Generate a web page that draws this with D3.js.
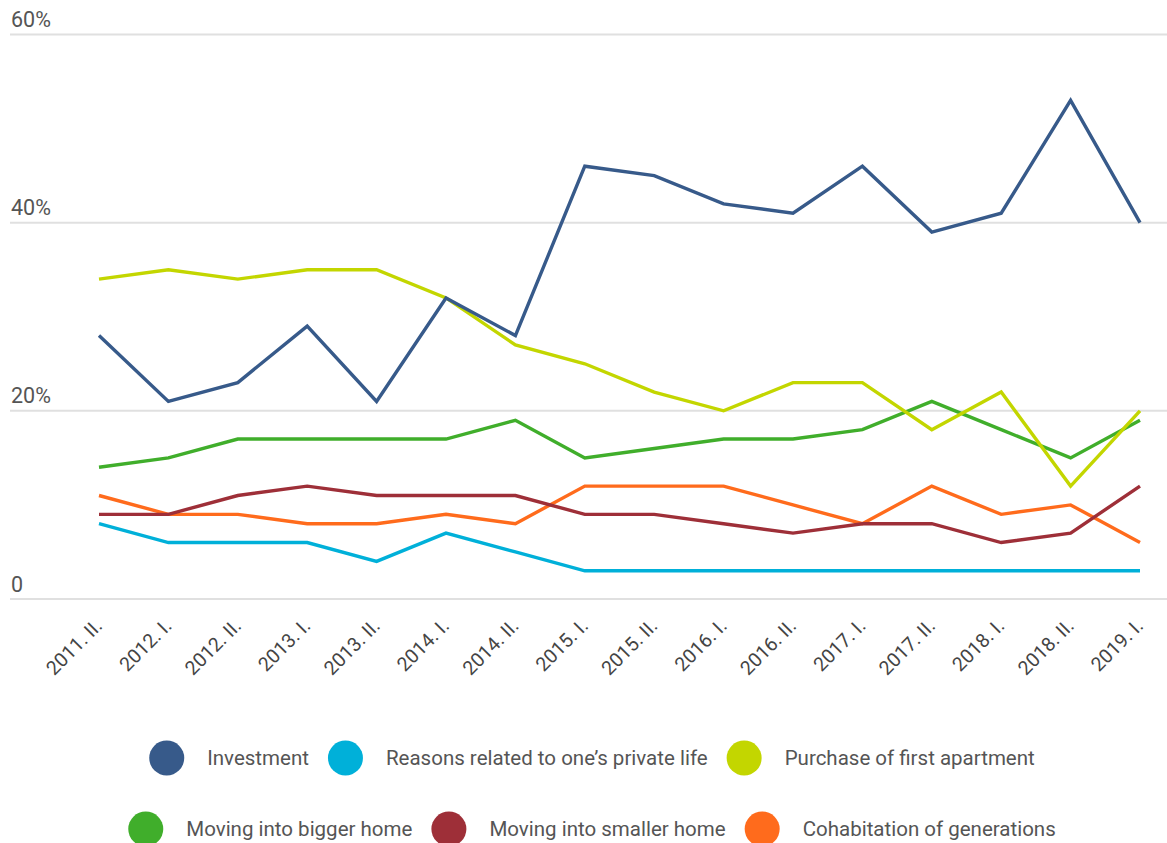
<!DOCTYPE html>
<html>
<head>
<meta charset="utf-8">
<script src="https://cdn.jsdelivr.net/npm/d3@7"></script>
<style>
  html, body { margin: 0; padding: 0; background: #fff; }
  svg { display: block; font-family: Roboto, "Noto Sans", sans-serif; }
</style>
</head>
<body>
<svg id="chart" width="1167" height="843"></svg>
<script>
// Half-year periods
const periods = ["2011. II.", "2012. I.", "2012. II.", "2013. I.", "2013. II.", "2014. I.", "2014. II.",
  "2015. I.", "2015. II.", "2016. I.", "2016. II.", "2017. I.", "2017. II.", "2018. I.", "2018. II.", "2019. I."];

// Share of respondents by motive (%)
const investment  = [28, 21, 23, 29, 21, 32, 28, 46, 45, 42, 41, 46, 39, 41, 53, 40];
const privateLife = [8, 6, 6, 6, 4, 7, 5, 3, 3, 3, 3, 3, 3, 3, 3, 3];
const firstHome   = [34, 35, 34, 35, 35, 32, 27, 25, 22, 20, 23, 23, 18, 22, 12, 20];
const biggerHome  = [14, 15, 17, 17, 17, 17, 19, 15, 16, 17, 17, 18, 21, 18, 15, 19];
const smallerHome = [9, 9, 11, 12, 11, 11, 11, 9, 9, 8, 7, 8, 8, 6, 7, 12];
const generations = [11, 9, 9, 8, 8, 9, 8, 12, 12, 12, 10, 8, 12, 9, 10, 6];

const yTicks = [0, 20, 40, 60];
const yTickLabels = ["0", "20%", "40%", "60%"];

const seriesNames = ["Investment", "Reasons related to one\u2019s private life", "Purchase of first apartment",
  "Moving into bigger home", "Moving into smaller home", "Cohabitation of generations"];
const seriesValues = [investment, privateLife, firstHome, biggerHome, smallerHome, generations];
const seriesColors = ["#375a8a", "#00b0d9", "#c3d600", "#40ae2b", "#9e2f38", "#ff6b1c"];

// Series drawn back to front so the earlier legend entries end up on top
const drawOrder = [5, 4, 3, 1, 2, 0];

const svg = d3.select("#chart");

const x = d3.scalePoint().domain(periods).range([99, 1140]);
const y = d3.scaleLinear().domain([0, 60]).range([599, 34.5]);

// Horizontal grid with labels sitting above each line
const grid = svg.append("g");
grid.selectAll("line").data(yTicks).join("line")
  .attr("x1", 10).attr("x2", 1167)
  .attr("y1", d => y(d)).attr("y2", d => y(d))
  .attr("stroke", "#e0e0e0").attr("stroke-width", 2);
grid.selectAll("text").data(yTicks).join("text")
  .attr("x", 11).attr("y", d => y(d) - 7.5)
  .attr("font-size", 21.5).attr("fill", "#555")
  .text((d, i) => yTickLabels[i]);

// Rotated period labels
const xAxis = d3.axisBottom(x).tickSize(0).tickPadding(0);
const gx = svg.append("g").attr("transform", "translate(0,599)").call(xAxis);
gx.select(".domain").remove();
gx.selectAll("text")
  .attr("font-size", 19.5).attr("fill", "#444")
  .attr("font-family", "Roboto, sans-serif")
  .attr("text-anchor", "end")
  .attr("dy", 0)
  .attr("transform", "translate(4,28) rotate(-45)");

// Lines
const line = d3.line().x((d, i) => x(periods[i])).y(d => y(d));
svg.append("g").selectAll("path").data(drawOrder).join("path")
  .attr("d", k => line(seriesValues[k]))
  .attr("fill", "none")
  .attr("stroke", k => seriesColors[k])
  .attr("stroke-width", 3.4)
  .attr("stroke-linejoin", "miter");

// Legend, two centred rows
const legendRows = [[0, 1, 2], [3, 4, 5]];
const rowY = [758, 829];
const r = 17.5, gapIcon = 23, gapItem = 19, cx0 = 592;
legendRows.forEach((row, ri) => {
  const g = svg.append("g");
  const items = row.map(k => {
    const it = g.append("g");
    it.append("circle").attr("r", r).attr("fill", seriesColors[k]);
    const t = it.append("text").attr("x", r + gapIcon).attr("dy", "0.35em")
      .attr("font-size", 20.5).attr("fill", "#555").text(seriesNames[k]);
    return { it, w: 2 * r + gapIcon + t.node().getComputedTextLength() };
  });
  const total = d3.sum(items, d => d.w) + gapItem * (items.length - 1);
  let cur = cx0 - total / 2;
  items.forEach(d => {
    d.it.attr("transform", `translate(${cur + r},${rowY[ri]})`);
    cur += d.w + gapItem;
  });
});
</script>
</body>
</html>
